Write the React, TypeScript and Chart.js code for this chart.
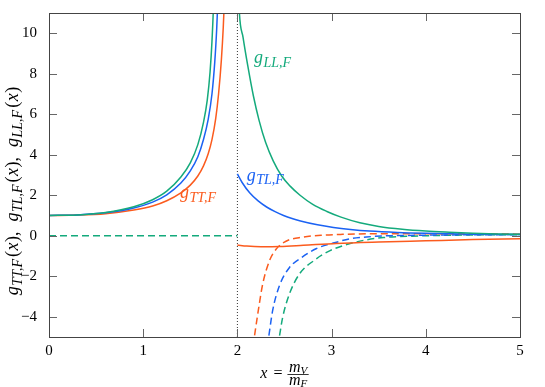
import React, { useEffect, useRef } from "react";
import { Chart, registerables } from "chart.js";

Chart.register(...registerables);

// ---- data ----
const xTickValues = [0, 1, 2, 3, 4, 5];
const yTickValues = [-4, -2, 0, 2, 4, 6, 8, 10];

// solid curves, x < 2
const llLeftX = [0, 0.3, 0.6, 0.9, 1.1, 1.25, 1.4, 1.5, 1.58, 1.64, 1.68, 1.71, 1.73, 1.75, 1.77];
const llLeftY = [1.0, 1.03, 1.15, 1.43, 1.78, 2.2, 2.9, 3.6, 4.5, 5.6, 6.7, 8.1, 9.6, 12, 17];
const tlLeftX = [0, 0.3, 0.6, 0.9, 1.1, 1.25, 1.4, 1.5, 1.58, 1.64, 1.69, 1.73, 1.76, 1.78, 1.8, 1.82];
const tlLeftY = [1.0, 1.03, 1.13, 1.37, 1.66, 2.02, 2.6, 3.2, 3.9, 4.75, 5.75, 7.0, 8.6, 10.2, 12.4, 15.5];
const ttLeftX = [0, 0.3, 0.6, 0.9, 1.1, 1.25, 1.4, 1.5, 1.58, 1.64, 1.69, 1.73, 1.77, 1.8, 1.83, 1.85, 1.87, 1.89];
const ttLeftY = [1.0, 1.02, 1.09, 1.27, 1.47, 1.73, 2.12, 2.5, 2.95, 3.45, 4.05, 4.75, 5.8, 7.0, 8.7, 10.3, 12.5, 15.5];

// solid curves, x > 2
const llRightX = [2.003, 2.01, 2.02, 2.06, 2.11, 2.17, 2.23, 2.3, 2.38, 2.47, 2.56, 2.665, 2.8, 2.95, 3.1, 3.3, 3.5, 3.75, 4.0, 4.25, 4.5, 4.75, 5.0];
const llRightY = [16, 12.5, 11.1, 9.8, 8.4, 6.9, 5.7, 4.6, 3.7, 2.95, 2.45, 2.0, 1.55, 1.2, 0.92, 0.64, 0.46, 0.32, 0.23, 0.17, 0.12, 0.09, 0.07];
const tlRightX = [2.0, 2.05, 2.13, 2.22, 2.31, 2.4, 2.49, 2.58, 2.67, 2.85, 3.02, 3.2, 3.4, 3.7, 4.0, 4.5, 5.0];
const tlRightY = [3.05, 2.63, 2.12, 1.72, 1.42, 1.19, 1.0, 0.85, 0.73, 0.54, 0.41, 0.31, 0.23, 0.16, 0.12, 0.08, 0.06];
const ttRightX = [2.0, 2.1, 2.25, 2.45, 2.7, 3.05, 3.5, 4.0, 4.5, 5.0];
const ttRightY = [-0.46, -0.51, -0.54, -0.53, -0.47, -0.38, -0.31, -0.25, -0.19, -0.15];

// dashed curves
const dashLeftX = [0, 2];
const dashLeftY = [0, 0];
const ttDashX = [2.15, 2.18, 2.215, 2.268, 2.339, 2.41, 2.516, 2.693, 2.905, 3.12, 3.5, 4.0, 4.5, 5.0];
const ttDashY = [-6, -5.0, -3.9, -2.4, -1.25, -0.67, -0.27, -0.07, 0.03, 0.07, 0.1, 0.1, 0.09, 0.08];
const tlDashX = [2.3, 2.332, 2.374, 2.445, 2.551, 2.68, 2.84, 3.03, 3.195, 3.37, 3.55, 3.726, 4.0, 4.5, 5.0];
const tlDashY = [-6, -5.0, -3.7, -2.48, -1.58, -1.08, -0.63, -0.35, -0.15, -0.06, -0.01, 0.01, 0.03, 0.05, 0.06];
const llDashX = [2.408, 2.445, 2.48, 2.551, 2.657, 2.82, 2.99, 3.17, 3.37, 3.55, 3.726, 4.0, 4.5, 5.0];
const llDashY = [-6, -5.0, -4.04, -2.89, -1.9, -1.2, -0.72, -0.42, -0.2, -0.09, -0.04, 0.0, 0.04, 0.05];

// threshold line
const thresholdX = [2, 2];
const thresholdY = [-5, 11];

const GREEN = "#14aa7c";
const BLUE = "#1b62f3";
const ORANGE = "#fb5b1e";
const SERIF = '"Liberation Serif", "DejaVu Serif", serif';

const pts = (xs: number[], ys: number[]) => xs.map((x, i) => ({ x, y: ys[i] }));

type Part = { t: string; s: number; i?: boolean; dy?: number; gap?: number };

function partsWidth(ctx: CanvasRenderingContext2D, parts: Part[]) {
  let w = 0;
  for (const p of parts) {
    ctx.font = `${p.i ? "italic " : ""}${p.s}px ${SERIF}`;
    w += ctx.measureText(p.t).width + (p.gap || 0);
  }
  return w;
}

function drawParts(ctx: CanvasRenderingContext2D, parts: Part[], x: number, y: number, align: "left" | "center" = "left") {
  let cx = align === "center" ? x - partsWidth(ctx, parts) / 2 : x;
  ctx.textAlign = "left";
  ctx.textBaseline = "alphabetic";
  for (const p of parts) {
    ctx.font = `${p.i ? "italic " : ""}${p.s}px ${SERIF}`;
    ctx.fillText(p.t, cx, y + (p.dy || 0));
    cx += ctx.measureText(p.t).width + (p.gap || 0);
  }
}

const gLabel = (sub: string, subGap = 1): Part[] => [
  { t: "g", s: 18, i: true, gap: 0.5 },
  { t: sub, s: 14, i: true, dy: 3.5, gap: subGap },
];

const decorPlugin = {
  id: "decor",
  afterDraw(chart: any) {
    const ctx: CanvasRenderingContext2D = chart.ctx;
    const { left, right, top, bottom } = chart.chartArea;
    const xs = chart.scales.x;
    const ys = chart.scales.y;
    ctx.save();
    // tick marks (inward, mirrored)
    ctx.strokeStyle = "#666";
    ctx.lineWidth = 1;
    ctx.beginPath();
    for (const v of xTickValues) {
      const px = Math.round(xs.getPixelForValue(v)) + 0.5;
      ctx.moveTo(px, bottom);
      ctx.lineTo(px, bottom - 8);
      ctx.moveTo(px, top);
      ctx.lineTo(px, top + 8);
    }
    for (const v of yTickValues) {
      const py = Math.round(ys.getPixelForValue(v)) + 0.5;
      ctx.moveTo(left, py);
      ctx.lineTo(left + 8, py);
      ctx.moveTo(right, py);
      ctx.lineTo(right - 8, py);
    }
    ctx.stroke();
    // frame
    ctx.strokeStyle = "#444";
    ctx.strokeRect(Math.round(left) + 0.5, Math.round(top) + 0.5, Math.round(right - left), Math.round(bottom - top));

    // curve labels
    ctx.fillStyle = GREEN;
    drawParts(ctx, gLabel("LL,F"), xs.getPixelForValue(2.176), ys.getPixelForValue(8.51));
    ctx.fillStyle = BLUE;
    drawParts(ctx, gLabel("TL,F"), xs.getPixelForValue(2.099), ys.getPixelForValue(2.72));
    ctx.fillStyle = ORANGE;
    drawParts(ctx, gLabel("TT,F"), xs.getPixelForValue(1.391), ys.getPixelForValue(1.84));

    // y-axis title
    ctx.fillStyle = "#000";
    ctx.save();
    ctx.translate(left - 31, 191);
    ctx.rotate(-Math.PI / 2);
    const tail = (last: boolean): Part[] => [
      { t: "(", s: 18, gap: 0.5 },
      { t: "x", s: 18, i: true, gap: 0.5 },
      { t: last ? ")" : "),", s: 18, gap: last ? 0 : 10 },
    ];
    const yTitle: Part[] = [
      ...gLabel("TT,F", 2), ...tail(false),
      ...gLabel("TL,F", 2), ...tail(false),
      ...gLabel("LL,F", 2), ...tail(true),
    ];
    drawParts(ctx, yTitle, 0, 0, "center");
    ctx.restore();

    // x-axis title: x = m_V / m_F
    const cxm = (left + right) / 2;
    const lhs: Part[] = [{ t: "x", s: 16, i: true, gap: 6 }, { t: "=", s: 16, gap: 5 }];
    const num: Part[] = [{ t: "m", s: 16, i: true }, { t: "V", s: 11, i: true, dy: 2 }];
    const den: Part[] = [{ t: "m", s: 16, i: true }, { t: "F", s: 11, i: true, dy: 2 }];
    const lw = partsWidth(ctx, lhs);
    const fw = Math.max(partsWidth(ctx, num), partsWidth(ctx, den)) + 3;
    const x0 = cxm - (lw + fw) / 2;
    drawParts(ctx, lhs, x0, 378);
    const fx = x0 + lw;
    ctx.strokeStyle = "#000";
    ctx.lineWidth = 0.8;
    ctx.beginPath();
    ctx.moveTo(fx, 374.5);
    ctx.lineTo(fx + fw, 374.5);
    ctx.stroke();
    drawParts(ctx, num, fx + fw / 2, 371.5, "center");
    drawParts(ctx, den, fx + fw / 2, 384.5, "center");
    ctx.restore();
  },
};

export default function App() {
  const ref = useRef<HTMLCanvasElement | null>(null);
  useEffect(() => {
    document.body.style.margin = "0";
    const canvas = ref.current;
    if (!canvas) return;
    const solid = (label: string, xs: number[], ys: number[], color: string) => ({
      label,
      data: pts(xs, ys),
      borderColor: color,
      backgroundColor: color,
      borderWidth: 1.5,
      pointRadius: 0,
      fill: false,
      cubicInterpolationMode: "monotone" as const,
    });
    const dashed = (label: string, xs: number[], ys: number[], color: string) => ({
      ...solid(label, xs, ys, color),
      borderDash: [7, 4],
    });
    const zeroPad = (s: any) => {
      s.paddingTop = 0;
      s.paddingBottom = 0;
      s.paddingLeft = 0;
      s.paddingRight = 0;
    };
    const chart = new Chart(canvas, {
      type: "line",
      data: {
        datasets: [
          solid("gLL left", llLeftX, llLeftY, GREEN),
          solid("gTL left", tlLeftX, tlLeftY, BLUE),
          solid("gTT left", ttLeftX, ttLeftY, ORANGE),
          solid("gLL right", llRightX, llRightY, GREEN),
          solid("gTL right", tlRightX, tlRightY, BLUE),
          solid("gTT right", ttRightX, ttRightY, ORANGE),
          dashed("dash left", dashLeftX, dashLeftY, GREEN),
          dashed("gTT dashed", ttDashX, ttDashY, ORANGE),
          dashed("gTL dashed", tlDashX, tlDashY, BLUE),
          dashed("gLL dashed", llDashX, llDashY, GREEN),
          {
            label: "threshold",
            data: pts(thresholdX, thresholdY),
            borderColor: "#333",
            borderWidth: 1,
            borderDash: [1, 2],
            pointRadius: 0,
            fill: false,
          },
        ],
      },
      options: {
        animation: false,
        responsive: false,
        devicePixelRatio: 1,
        layout: { padding: { top: 13, right: 25, left: 0, bottom: 0 } },
        plugins: { legend: { display: false }, tooltip: { enabled: false }, title: { display: false } },
        scales: {
          x: {
            type: "linear",
            min: 0,
            max: 5,
            grid: { display: false, drawTicks: false },
            border: { display: false },
            ticks: { color: "#000", font: { family: SERIF, size: 15 }, padding: 5 },
            afterBuildTicks: (s: any) => {
              s.ticks = xTickValues.map((v) => ({ value: v }));
            },
            afterFit: (s: any) => {
              s.height = 50;
              zeroPad(s);
            },
          },
          y: {
            type: "linear",
            min: -5,
            max: 11,
            grid: { display: false, drawTicks: false },
            border: { display: false },
            ticks: {
              color: "#000",
              font: { family: SERIF, size: 15 },
              padding: 12,
              callback: (v: any) => String(v).replace("-", "\u2212"),
            },
            afterBuildTicks: (s: any) => {
              s.ticks = yTickValues.map((v) => ({ value: v }));
            },
            afterFit: (s: any) => {
              s.width = 49;
              zeroPad(s);
            },
          },
        },
      },
      plugins: [decorPlugin],
    });
    return () => chart.destroy();
  }, []);
  return (
    <div style={{ width: 545, height: 387 }}>
      <canvas ref={ref} width={545} height={387} style={{ display: "block", width: 545, height: 387 }} />
    </div>
  );
}
